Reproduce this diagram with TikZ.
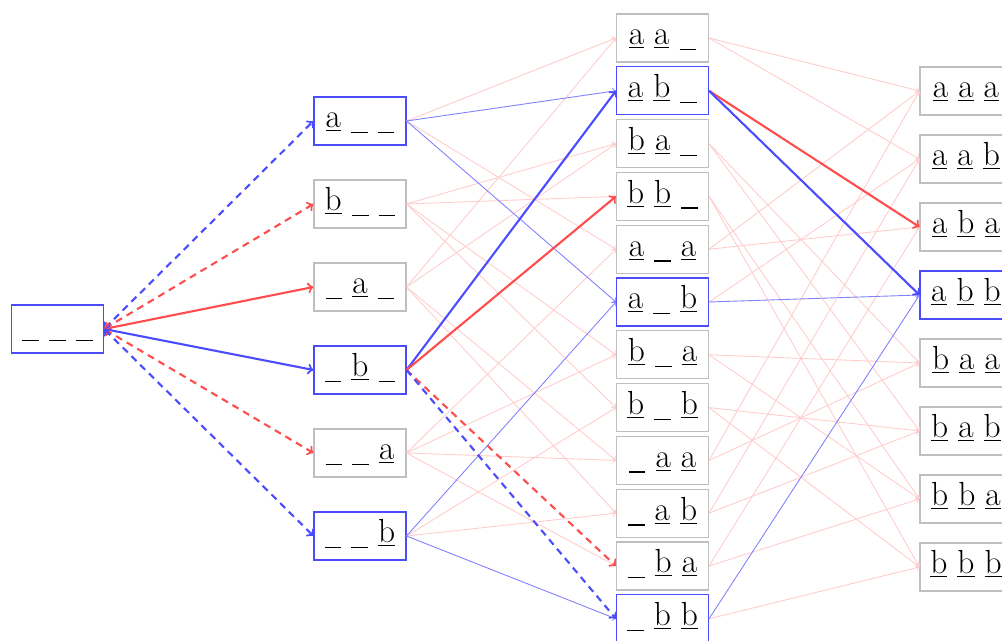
\documentclass[tikz,border=0pt]{standalone}
\newcommand{\letr}[1]{\underline{#1}}
\newcommand{\blank}{\rule[-0.16em]{0.5em}{0.04em}}
\tikzset{
  word/.style={draw=gray!50, line width=0.6pt, font=\fontsize{19}{22}\selectfont,
    minimum width=1.84cm, inner sep=0.1cm, text height=0.52cm, text depth=0.24cm},
  sel/.style={word, draw=blue!70},
  pale/.style={->, red!20, line width=0.5pt},
  faint/.style={->, blue!50, line width=0.5pt},
  hot/.style={->, red!70, line width=1.2pt},
  cool/.style={->, blue!70, line width=1.2pt},
  guess/.style={dash pattern=on 4pt off 3pt}
}
\begin{document}
\begin{tikzpicture}[x=0.02cm,y=-0.02cm]
  \useasboundingbox (0,0) rectangle (1002,641);
  % empty word
  \node[sel] (xxx) at (57.5,329) {\blank\ \blank\ \blank};
  % one letter
  \foreach \n/\t/\s [count=\i from 0] in {
      axx/{\letr{a}\ \blank\ \blank}/sel, bxx/{\letr{b}\ \blank\ \blank}/word,
      xax/{\blank\ \letr{a}\ \blank}/word, xbx/{\blank\ \letr{b}\ \blank}/sel,
      xxa/{\blank\ \blank\ \letr{a}}/word, xxb/{\blank\ \blank\ \letr{b}}/sel}
    \node[\s] (\n) at (360,{121+83*\i}) {\t};
  % two letters
  \foreach \n/\t/\s [count=\i from 0] in {
      aax/{\letr{a}\ \letr{a}\ \blank}/word, abx/{\letr{a}\ \letr{b}\ \blank}/sel,
      bax/{\letr{b}\ \letr{a}\ \blank}/word, bbx/{\letr{b}\ \letr{b}\ \blank}/word,
      axa/{\letr{a}\ \blank\ \letr{a}}/word, axb/{\letr{a}\ \blank\ \letr{b}}/sel,
      bxa/{\letr{b}\ \blank\ \letr{a}}/word, bxb/{\letr{b}\ \blank\ \letr{b}}/word,
      xaa/{\blank\ \letr{a}\ \letr{a}}/word, xab/{\blank\ \letr{a}\ \letr{b}}/word,
      xba/{\blank\ \letr{b}\ \letr{a}}/word, xbb/{\blank\ \letr{b}\ \letr{b}}/sel}
    \node[\s] (\n) at (662.5,{38+52.8*\i}) {\t};
  % three letters
  \foreach \n/\t/\s [count=\i from 0] in {
      aaa/{\letr{a}\ \letr{a}\ \letr{a}}/word, aab/{\letr{a}\ \letr{a}\ \letr{b}}/word,
      aba/{\letr{a}\ \letr{b}\ \letr{a}}/word, abb/{\letr{a}\ \letr{b}\ \letr{b}}/sel,
      baa/{\letr{b}\ \letr{a}\ \letr{a}}/word, bab/{\letr{b}\ \letr{a}\ \letr{b}}/word,
      bba/{\letr{b}\ \letr{b}\ \letr{a}}/word, bbb/{\letr{b}\ \letr{b}\ \letr{b}}/word}
    \node[\s] (\n) at (966,{91+68*\i}) {\t};

  % pale edges
  \foreach \a/\b in {axx/aax, axx/axa, bxx/bax, bxx/bbx, bxx/bxa, bxx/bxb,
      xax/aax, xax/bax, xax/xaa, xax/xab, xxa/axa, xxa/bxa, xxa/xaa, xxa/xba,
      xxb/bxb, xxb/xab,
      aax/aaa, aax/aab, bax/baa, bax/bab, bbx/bba, bbx/bbb, axa/aaa, axa/aba,
      axb/aab, bxa/baa, bxa/bba, bxb/bab, bxb/bbb, xaa/aaa, xaa/baa,
      xab/aab, xab/bab, xba/aba, xba/bba, xbb/bbb}
    \draw[pale] (\a.east) -- (\b.west);
  \foreach \a/\b in {axx/abx, axx/axb, xxb/axb, xxb/xbb, axb/abb, xbb/abb}
    \draw[faint] (\a.east) -- (\b.west);

  % first step
  \draw[cool,guess,<->] (xxx.east) -- (axx.west);
  \draw[hot,guess,<->] (xxx.east) -- (bxx.west);
  \draw[hot,<->] (xxx.east) -- (xax.west);
  \draw[cool,<->] (xxx.east) -- (xbx.west);
  \draw[hot,guess,<->] (xxx.east) -- (xxa.west);
  \draw[cool,guess,<->] (xxx.east) -- (xxb.west);
  % second step
  \draw[cool] (xbx.east) -- (abx.west);
  \draw[hot] (xbx.east) -- (bbx.west);
  \draw[hot,guess] (xbx.east) -- (xba.west);
  \draw[cool,guess] (xbx.east) -- (xbb.west);
  % third step
  \draw[hot] (abx.east) -- (aba.west);
  \draw[cool] (abx.east) -- (abb.west);
\end{tikzpicture}
\end{document}
